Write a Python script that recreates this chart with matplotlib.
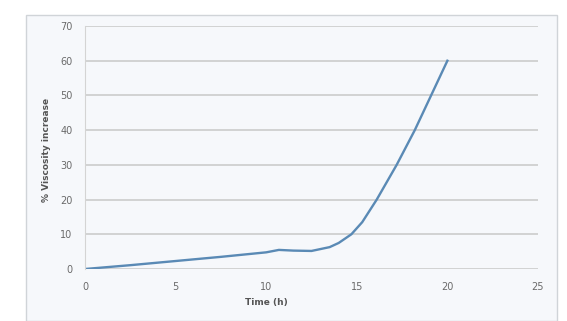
import matplotlib
matplotlib.use("Agg")
import matplotlib.pyplot as plt
from matplotlib.patches import Rectangle

# viscosity curve
time_h = [0, 2.5, 5, 7.5, 10, 10.7, 11.5, 12.5, 13.5, 14, 14.7, 15.3, 16.1, 17.2, 18.2, 19.1, 20]
visc_pct = [0, 1.1, 2.3, 3.5, 4.8, 5.5, 5.3, 5.2, 6.3, 7.5, 10, 13.5, 20, 30, 40, 50, 60]
x_ticks = [0, 5, 10, 15, 20, 25]
y_ticks = [0, 10, 20, 30, 40, 50, 60, 70]

W, H = 567, 321
fig = plt.figure(figsize=(W / 100, H / 100), dpi=100)
fig.patch.set_facecolor("white")

# chart area box
fig.patches.append(Rectangle((26 / W, 0), (557 - 26) / W, 1 - 15 / H,
                             transform=fig.transFigure, facecolor="#f6f8fb",
                             edgecolor="#d0d4d8", linewidth=1, zorder=0))

ax = fig.add_axes([85 / W, 1 - 269 / H, (538 - 85) / W, (269 - 26) / H])
ax.set_zorder(2)
ax.set_facecolor("none")
ax.plot(time_h, visc_pct, color="#5a8ab5", linewidth=1.7, solid_joinstyle="round")

ax.set_xlim(0, 25)
ax.set_ylim(0, 70)
ax.set_xticks(x_ticks)
ax.set_yticks(y_ticks)
ax.grid(axis="y", color="#c8c8c8", linewidth=1.1)
ax.set_axisbelow(True)
for s in ax.spines.values():
    s.set_visible(False)
ax.spines["left"].set_visible(True)
ax.spines["left"].set_color("#d4d4d4")
ax.tick_params(length=0, labelsize=7, colors="#6a6a6a")
ax.tick_params(axis="y", pad=9)
ax.tick_params(axis="x", pad=9)

ax.set_xlabel("Time (h)", fontsize=6.5, fontweight="bold", color="#555555")
ax.xaxis.set_label_coords(0.40, -0.12)
ax.set_ylabel("% Viscosity increase", fontsize=6.5, fontweight="bold", color="#555555")
ax.yaxis.set_label_coords(-0.075, 0.49)

fig.savefig("out.png", dpi=100)
